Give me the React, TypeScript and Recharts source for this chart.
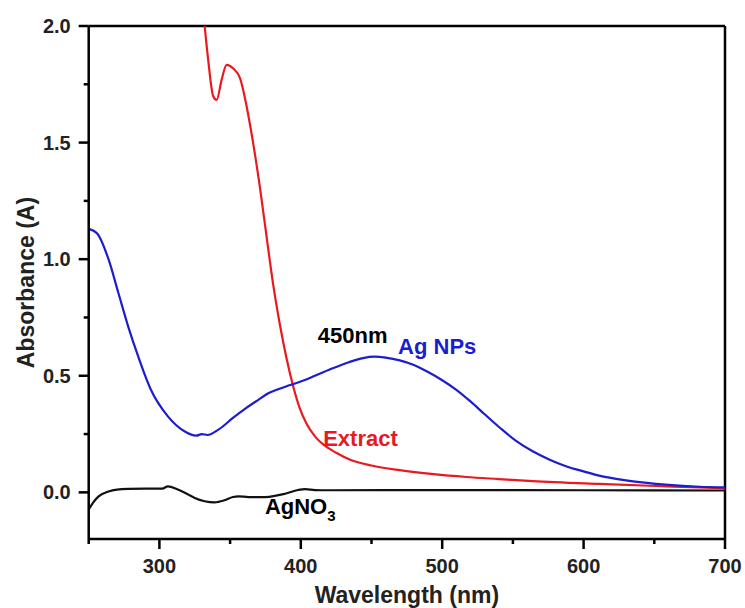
import React from 'react';
import { LineChart, Line, XAxis, YAxis, ReferenceLine, ReferenceDot } from 'recharts';

// Ag NPs (blue)
const agNpsWl = [250, 256, 264, 271, 278, 285, 294, 306, 318, 326, 330, 334, 342, 352, 361, 370, 377, 383, 390, 397, 410, 423, 434, 444, 452, 460, 470, 480, 490, 500, 510, 520, 530, 541, 552, 564, 576, 588, 600, 611, 623, 635, 658, 682, 700];
const agNpsAbs = [1.13, 1.11, 1.0, 0.855, 0.71, 0.583, 0.44, 0.326, 0.261, 0.243, 0.25, 0.246, 0.27, 0.319, 0.36, 0.397, 0.425, 0.44, 0.455, 0.469, 0.5, 0.533, 0.558, 0.576, 0.582, 0.578, 0.566, 0.546, 0.516, 0.481, 0.44, 0.39, 0.335, 0.276, 0.222, 0.176, 0.14, 0.111, 0.09, 0.072, 0.058, 0.047, 0.033, 0.024, 0.021];

// Extract (red)
const extractWl = [332, 334.5, 338, 340.5, 344, 347.5, 352, 357, 361.7, 366.3, 371, 375.8, 380.5, 385.2, 389.9, 394.6, 399.3, 404, 410, 417, 425, 435, 450, 470, 494, 517, 540, 564, 611, 658, 700];
const extractAbs = [2.0, 1.855, 1.7, 1.683, 1.769, 1.833, 1.819, 1.776, 1.655, 1.498, 1.312, 1.097, 0.89, 0.72, 0.575, 0.455, 0.36, 0.295, 0.24, 0.2, 0.17, 0.14, 0.115, 0.095, 0.078, 0.066, 0.057, 0.048, 0.036, 0.026, 0.018];

// AgNO3 (black)
const agno3Wl = [250, 253, 257, 264, 270, 278, 290, 302, 306, 313, 320, 325, 332, 339, 346, 352, 356, 363, 375, 389, 398, 403, 410, 420, 500, 600, 700];
const agno3Abs = [-0.074, -0.045, -0.017, 0.004, 0.012, 0.015, 0.016, 0.016, 0.026, 0.012, -0.008, -0.024, -0.038, -0.043, -0.034, -0.02, -0.017, -0.02, -0.02, -0.006, 0.01, 0.014, 0.01, 0.009, 0.01, 0.009, 0.008];

const xTicks = [250, 300, 350, 400, 450, 500, 550, 600, 650, 700];
const xMajor = [300, 400, 500, 600, 700];
const yTicks = [0, 0.25, 0.5, 0.75, 1.0, 1.25, 1.5, 1.75, 2.0];
const yMajor = [0, 0.5, 1.0, 1.5, 2.0];

const BLUE = '#1c1cd0';
const RED = '#e8191f';
const FONT = '"Liberation Sans", Arial, sans-serif';

const annotations = [
  { wl: 412, abs: 0.642, text: '450nm', color: '#000' },
  { wl: 468.8, abs: 0.594, text: 'Ag NPs', color: BLUE },
  { wl: 415.8, abs: 0.2, text: 'Extract', color: RED },
  { wl: 374.6, abs: -0.091, text: 'AgNO', sub: '3', color: '#000' },
];

const toRows = (wl: number[], abs: number[]) => wl.map((w, i) => ({ wl: w, abs: abs[i] }));

const agNpsData = toRows(agNpsWl, agNpsAbs);
const extractData = toRows(extractWl, extractAbs);
const agno3Data = toRows(agno3Wl, agno3Abs);

const XTick = (props: any) => {
  const { x, y, payload } = props;
  const major = xMajor.includes(payload.value);
  return (
    <g>
      <line x1={x} x2={x} y1={y} y2={y + (major ? 10 : 5)} stroke="#000" strokeWidth={2.5} />
      {major && (
        <text x={x} y={y + 34} textAnchor="middle" fontFamily={FONT} fontWeight="bold" fontSize={20} fill="#222">
          {payload.value}
        </text>
      )}
    </g>
  );
};

const YTick = (props: any) => {
  const { x, y, payload } = props;
  const major = yMajor.includes(payload.value);
  return (
    <g>
      <line x1={x} x2={x - (major ? 10 : 5)} y1={y} y2={y} stroke="#000" strokeWidth={2.5} />
      {major && (
        <text x={x - 18} y={y + 7} textAnchor="end" fontFamily={FONT} fontWeight="bold" fontSize={20} fill="#222">
          {payload.value.toFixed(1)}
        </text>
      )}
    </g>
  );
};

export default function App() {
  return (
    <div style={{ position: 'absolute', left: 0, top: 0, background: '#fff' }}>
      <LineChart width={745} height={608} margin={{ top: 26, right: 20, bottom: 0, left: 0 }}>
        <XAxis
          type="number"
          dataKey="wl"
          domain={[250, 700]}
          ticks={xTicks}
          interval={0}
          allowDataOverflow
          height={69}
          tickSize={0}
          tickMargin={0}
          tick={<XTick />}
          axisLine={{ stroke: '#000', strokeWidth: 2.5 }}
          label={{
            content: (p: any) => (
              <text
                x={p.viewBox.x + p.viewBox.width / 2}
                y={p.viewBox.y + 64}
                textAnchor="middle"
                fontFamily={FONT}
                fontWeight="bold"
                fontSize={23}
                fill="#222"
              >
                Wavelength (nm)
              </text>
            ),
          }}
        />
        <YAxis
          type="number"
          domain={[-0.2, 2.0]}
          ticks={yTicks}
          interval={0}
          allowDataOverflow
          width={88.7}
          tickSize={0}
          tickMargin={0}
          tick={<YTick />}
          axisLine={{ stroke: '#000', strokeWidth: 2.5 }}
          label={{
            content: (p: any) => {
              const cx = 34;
              const cy = p.viewBox.y + p.viewBox.height / 2;
              return (
                <text
                  x={cx}
                  y={cy}
                  transform={`rotate(-90 ${cx} ${cy})`}
                  textAnchor="middle"
                  fontFamily={FONT}
                  fontWeight="bold"
                  fontSize={23}
                  fill="#222"
                >
                  Absorbance (A)
                </text>
              );
            },
          }}
        />
        <ReferenceLine y={2.0} stroke="#000" strokeWidth={2.5} />
        <ReferenceLine x={700} stroke="#000" strokeWidth={2.5} />
        <Line data={agno3Data} dataKey="abs" type="monotone" stroke="#111" strokeWidth={2.2} dot={false} isAnimationActive={false} />
        <Line data={extractData} dataKey="abs" type="monotone" stroke={RED} strokeWidth={2.2} dot={false} isAnimationActive={false} />
        <Line data={agNpsData} dataKey="abs" type="monotone" stroke={BLUE} strokeWidth={2.2} dot={false} isAnimationActive={false} />
        {annotations.map((a) => (
          <ReferenceDot
            key={a.text}
            x={a.wl}
            y={a.abs}
            r={0}
            ifOverflow="visible"
            shape={(p: any) => (
              <text x={p.cx} y={p.cy} fontFamily={FONT} fontWeight="bold" fontSize={22} fill={a.color}>
                {a.text}
                {a.sub && (
                  <tspan fontSize={15} dy={7}>
                    {a.sub}
                  </tspan>
                )}
              </text>
            )}
          />
        ))}
      </LineChart>
    </div>
  );
}
